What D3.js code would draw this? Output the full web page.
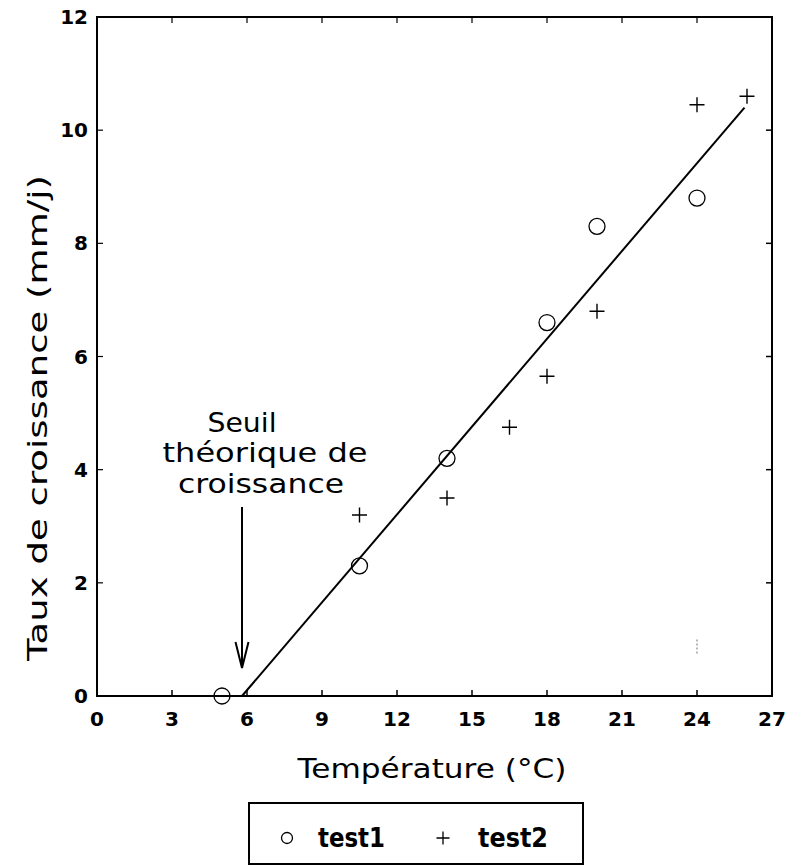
<!DOCTYPE html>
<html><head><meta charset="utf-8">
<script src="https://cdn.jsdelivr.net/npm/d3@7"></script>
<style>
body{margin:0;background:#fff;}
text{font-family:"DejaVu Sans",sans-serif;fill:#000;}
</style></head>
<body>
<svg id="chart" width="787" height="866"></svg>
<script>
// Data
const xTicks = [0,3,6,9,12,15,18,21,24,27];
const yTicks = [0,2,4,6,8,10,12];
const test1X = [5, 10.5, 14, 18, 20, 24];
const test1Y = [0, 2.3, 4.2, 6.6, 8.3, 8.8];
const test2X = [10.5, 14, 16.5, 18, 20, 24, 26];
const test2Y = [3.2, 3.5, 4.75, 5.65, 6.8, 10.45, 10.6];
const fitX = [5.8, 25.9];
const fitY = [0, 10.4];
const annotationLines = ["Seuil", "théorique de", "croissance"];
const xTitle = "Température (°C)";
const yTitle = "Taux de croissance (mm/j)";
const legendLabels = ["test1", "test2"];

const svg = d3.select("#chart");
const x = d3.scaleLinear().domain([0,27]).range([97,772]);
const y = d3.scaleLinear().domain([0,12]).range([696,17]);

// frame
svg.append("rect").attr("x",x(0)).attr("y",y(12)).attr("width",x(27)-x(0)).attr("height",y(0)-y(12))
  .attr("fill","none").attr("stroke","#000").attr("stroke-width",2);

// inward ticks
const tl = 6;
svg.append("g").selectAll("line").data(xTicks.slice(1,-1)).join("line")
  .attr("x1",d=>x(d)).attr("x2",d=>x(d)).attr("y1",y(0)).attr("y2",y(0)-tl).attr("stroke","#000").attr("stroke-width",1.5);
svg.append("g").selectAll("line").data(xTicks.slice(1,-1)).join("line")
  .attr("x1",d=>x(d)).attr("x2",d=>x(d)).attr("y1",y(12)).attr("y2",y(12)+tl).attr("stroke","#000").attr("stroke-width",1.2);
svg.append("g").selectAll("line").data(yTicks.slice(1,-1)).join("line")
  .attr("x1",x(27)).attr("x2",x(27)-tl).attr("y1",d=>y(d)).attr("y2",d=>y(d)).attr("stroke","#000").attr("stroke-width",1.5);
svg.append("g").selectAll("line").data(yTicks.slice(1,-1)).join("line")
  .attr("x1",x(0)).attr("x2",x(0)+tl).attr("y1",d=>y(d)).attr("y2",d=>y(d)).attr("stroke","#000").attr("stroke-width",1.2);

// tick labels
svg.append("g").selectAll("text").data(xTicks).join("text")
  .attr("x",d=>x(d)).attr("y",726).attr("text-anchor","middle")
  .attr("font-size",20).attr("font-weight","bold").text(d=>d);
svg.append("g").selectAll("text").data(yTicks).join("text")
  .attr("x",88).attr("y",d=>y(d)+7).attr("text-anchor","end")
  .attr("font-size",20).attr("font-weight","bold").text(d=>d);

// titles
svg.append("text").attr("x",432).attr("y",778).attr("text-anchor","middle")
  .attr("font-size",27).attr("textLength",269).attr("lengthAdjust","spacingAndGlyphs").text(xTitle);
svg.append("text").attr("transform","translate(47,418) rotate(-90)").attr("text-anchor","middle")
  .attr("font-size",27).attr("textLength",486).attr("lengthAdjust","spacingAndGlyphs").text(yTitle);

// fit line
const line = d3.line().x(d=>x(d[0])).y(d=>y(d[1]));
svg.append("path").datum(d3.zip(fitX,fitY)).attr("d",line).attr("fill","none").attr("stroke","#000").attr("stroke-width",2);

// test1 circles
svg.append("g").selectAll("circle").data(d3.zip(test1X,test1Y)).join("circle")
  .attr("cx",d=>x(d[0])).attr("cy",d=>y(d[1])).attr("r",8)
  .attr("fill","none").attr("stroke","#000").attr("stroke-width",1.3);

// test2 plus
const plusPath = (cx,cy,s)=>`M${cx-s},${cy}H${cx+s}M${cx},${cy-s}V${cy+s}`;
svg.append("g").selectAll("path").data(d3.zip(test2X,test2Y)).join("path")
  .attr("d",d=>plusPath(x(d[0]),y(d[1]),7.5))
  .attr("fill","none").attr("stroke","#000").attr("stroke-width",1.4);

// faint mark near (24, ~0.9)
svg.append("line").attr("x1",x(24)).attr("x2",x(24)).attr("y1",y(1.0)).attr("y2",y(0.72))
  .attr("stroke","#888").attr("stroke-width",1.2).attr("stroke-dasharray","2,2");

// annotation
const annX = [242, 265, 261];
const annY = [432, 462, 493];
const annW = [69, 205, 166];
svg.append("g").selectAll("text").data(annotationLines).join("text")
  .attr("x",(d,i)=>annX[i]).attr("y",(d,i)=>annY[i]).attr("text-anchor","middle")
  .attr("font-size",27).attr("textLength",(d,i)=>annW[i]).attr("lengthAdjust","spacingAndGlyphs").text(d=>d);
// arrow
const ax = x(5.8);
svg.append("line").attr("x1",ax).attr("x2",ax).attr("y1",507).attr("y2",668).attr("stroke","#000").attr("stroke-width",2);
svg.append("path").attr("d",`M${ax-6.5},642L${ax},668L${ax+6.5},642`).attr("fill","none").attr("stroke","#000").attr("stroke-width",2);

// legend
svg.append("rect").attr("x",249).attr("y",803).attr("width",334).attr("height",61)
  .attr("fill","none").attr("stroke","#000").attr("stroke-width",2);
svg.append("circle").attr("cx",287).attr("cy",838).attr("r",5.5).attr("fill","none").attr("stroke","#000").attr("stroke-width",1.3);
svg.append("text").attr("x",318).attr("y",847).attr("font-size",26).attr("font-weight","bold")
  .attr("textLength",67).attr("lengthAdjust","spacingAndGlyphs").text(legendLabels[0]);
svg.append("path").attr("d",plusPath(443,838,6.5)).attr("fill","none").attr("stroke","#000").attr("stroke-width",1.3);
svg.append("text").attr("x",478).attr("y",847).attr("font-size",26).attr("font-weight","bold")
  .attr("textLength",70).attr("lengthAdjust","spacingAndGlyphs").text(legendLabels[1]);
</script>
</body></html>
